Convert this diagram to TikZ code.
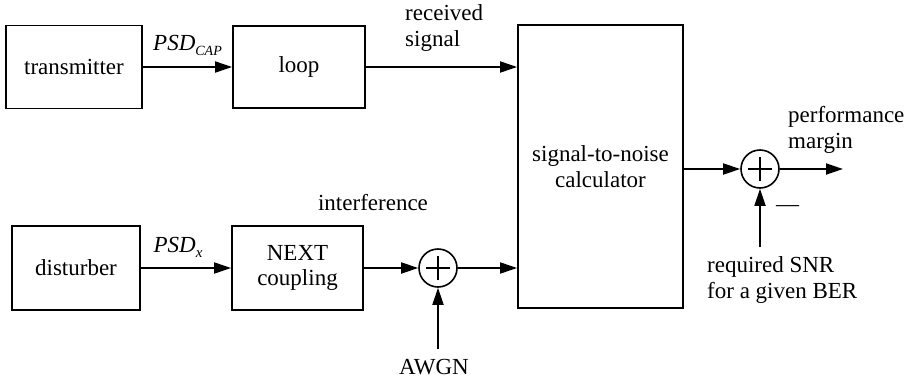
\documentclass[tikz,border=0pt]{standalone}
\usepackage{fontspec}
\setmainfont{Liberation Serif}
\usetikzlibrary{arrows.meta}
\begin{document}
\begin{tikzpicture}[x=1pt,y=-1pt,
  every node/.style={font=\rmfamily\fontsize{23}{25.5}\selectfont},
  blk/.style={draw, line width=1.8pt, inner sep=0pt, align=center},
  sumnode/.style={draw, circle, line width=1.6pt, minimum size=38pt, inner sep=0pt,
    path picture={
      \draw[line width=1.4pt] ([xshift=-12pt]path picture bounding box.center) -- ([xshift=12pt]path picture bounding box.center);
      \draw[line width=1.4pt] ([yshift=-12pt]path picture bounding box.center) -- ([yshift=12pt]path picture bounding box.center);
    }},
  flow/.style={line width=1.8pt, -{Triangle[length=17pt,width=11pt]}},
  lbl/.style={inner sep=0pt, align=center},
  lblleft/.style={inner sep=0pt, align=left, anchor=west}]

\useasboundingbox (0,0) rectangle (909,378);

% blocks
\node[blk, minimum width=136pt, minimum height=83pt] (tx)   at (74,67)    {transmitter};
\node[blk, minimum width=132pt, minimum height=82pt] (loop) at (299,67)   {loop};
\node[blk, minimum width=128pt, minimum height=84pt] (dist) at (76,268)   {disturber};
\node[blk, minimum width=131pt, minimum height=84pt] (next) at (297.5,268) {NEXT\\coupling};
\node[blk, minimum width=165pt, minimum height=283pt] (snr) at (600.5,166.5) {signal-to-noise\\calculator};

% summing junctions
\node[sumnode] (s1) at (438,268) {};
\node[sumnode] (s2) at (760,169) {};

% free ends
\coordinate (awgnq) at (438,349);
\coordinate (reqq)  at (760,247);
\coordinate (outq)  at (843,169);

% connectors
\draw[flow] (tx.east) -- (loop.west);
\draw[flow] (loop.east) -- (loop.east -| snr.west);
\draw[flow] (dist.east) -- (next.west);
\draw[flow] (next.east) -- (s1.west);
\draw[flow] (s1.east) -- (s1 -| snr.west);
\draw[flow] (awgnq) -- (s1.south);
\draw[flow] (snr.east |- s2) -- (s2.west);
\draw[flow] (reqq) -- (s2.south);
\draw[flow] (s2.east) -- (outq);

% labels
\node[lbl, anchor=base] (lcap) at (187.5,50) {\textit{PSD}\raisebox{-5pt}{\fontsize{14}{14}\selectfont\itshape CAP}};
\node[lbl, anchor=base] (lx) at (178,252) {\textit{PSD}\raisebox{-5pt}{\fontsize{15}{15}\selectfont\itshape x}};
\node[lblleft] (lrec) at (405,28) {received\\signal};
\node[lbl] (lint) at (373,203) {interference};
\node[lbl] (lawgn) at (434,367) {AWGN};
\node[lblleft] (lperf) at (788,130) {performance\\margin};
\node[lblleft] (lreq) at (707,280) {required SNR\\for a given BER};
\node[lbl] (lminus) at (787.5,209) {—};

\end{tikzpicture}
\end{document}
